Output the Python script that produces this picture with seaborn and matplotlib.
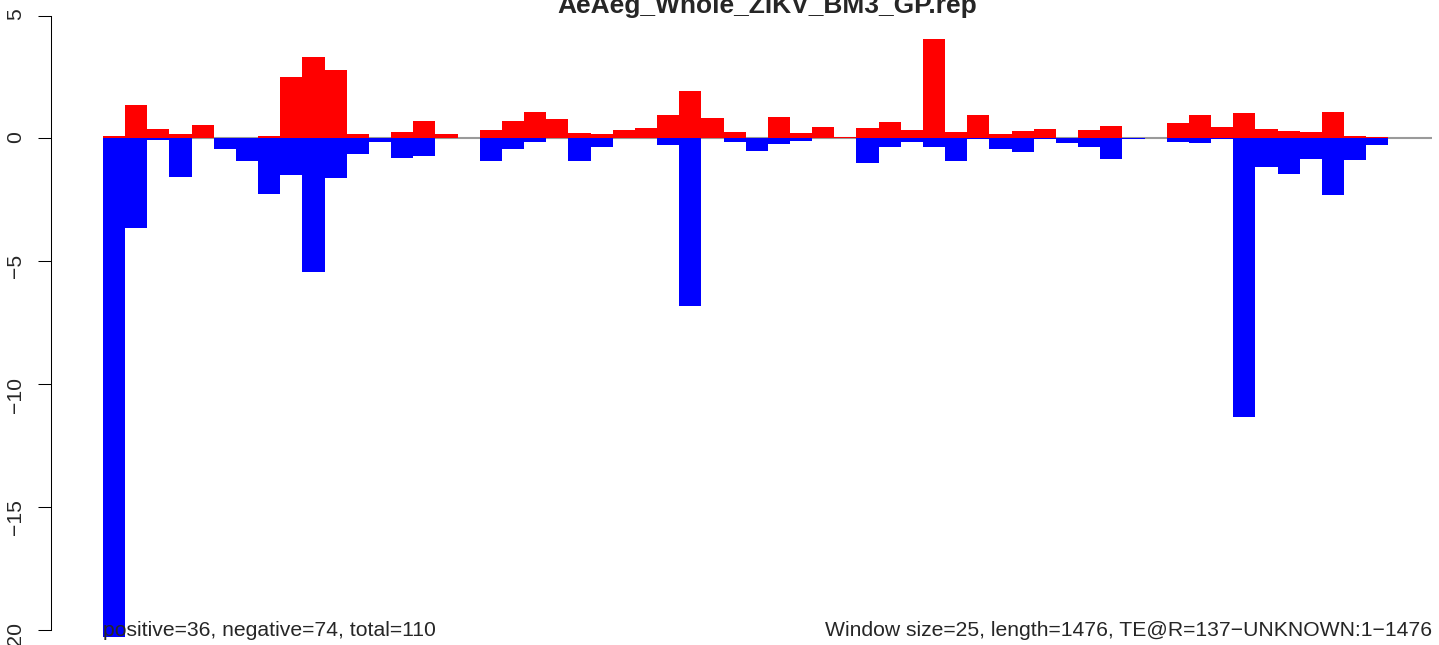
import numpy as np
import pandas as pd
import matplotlib
matplotlib.use("Agg")
import matplotlib.pyplot as plt
import seaborn as sns

# values, one per 25-nt window
title = "AeAeg_Whole_ZIKV_BM3_GP.rep"
positive = [0.10, 1.37, 0.39, 0.18, 0.55, 0, 0, 0.10, 2.50, 3.32, 2.79, 0.18, 0, 0.26, 0.71,
            0.18, 0, 0.35, 0.71, 1.08, 0.79, 0.22, 0.18, 0.35, 0.43, 0.96, 1.93, 0.83, 0.26, 0,
            0.88, 0.22, 0.47, 0.06, 0.43, 0.67, 0.35, 4.05, 0.26, 0.96, 0.18, 0.30, 0.39, 0,
            0.35, 0.51, 0, 0, 0.63, 0.96, 0.47, 1.04, 0.39, 0.30, 0.26, 1.08, 0.10, 0.06]
negative = [-20.3, -3.63, -0.06, -1.56, 0, -0.42, -0.91, -2.25, -1.48, -5.46, -1.60, -0.62,
            -0.13, -0.78, -0.70, 0, 0, -0.94, -0.42, -0.13, 0, -0.91, -0.33, 0, 0, -0.25, -6.82,
            0, -0.13, -0.50, -0.21, -0.09, 0, 0, -1.02, -0.33, -0.13, -0.33, -0.94, -0.04, -0.42,
            -0.54, -0.04, -0.17, -0.37, -0.82, -0.04, 0, -0.13, -0.17, -0.04, -11.34, -1.15,
            -1.43, -0.82, -2.29, -0.86, -0.25]
y_ticks = [5, 0, -5, -10, -15, -20]
left_note = "positive=36, negative=74, total=110"
right_note = "Window size=25, length=1476, TE@R=137\u2212UNKNOWN:1\u22121476"

sns.set_style("white")
plt.rcParams["font.family"] = ["Liberation Sans", "DejaVu Sans"]

df = pd.DataFrame({"window": np.arange(len(positive)),
                   "positive": positive,
                   "negative": negative})

W, H = 1439, 645
fig = plt.figure(figsize=(W / 100, H / 100), dpi=100)
ax = fig.add_axes([51 / W, 1 - 638.2 / H, (1432 - 51) / W, (638.2 - 15.6) / H])

x_left, x_right = -2.847, 59.47

# zero line sits under the bars
ax.hlines(0, -0.5, x_right, color="#9a9a9a", lw=1.5, zorder=0)

sns.barplot(data=df, x="window", y="positive", color="#ff0000", saturation=1,
            width=1, linewidth=0, errorbar=None, ax=ax, zorder=2)
sns.barplot(data=df, x="window", y="negative", color="#0000ff", saturation=1,
            width=1, linewidth=0, errorbar=None, ax=ax, zorder=3)

ax.set_xlim(x_left, x_right)
ax.set_ylim(-20.35, 5)
ax.set_xticks([])
ax.set_xlabel("")
ax.set_ylabel("")
sns.despine(ax=ax, bottom=True)
ax.spines["left"].set_bounds(-20, 5)
ax.spines["left"].set_linewidth(0.75)
ax.spines["left"].set_color("black")
ax.set_yticks(y_ticks)
ax.set_yticklabels([str(t).replace("-", "\u2212") for t in y_ticks])
ax.tick_params(axis="y", direction="out", length=9.4, width=0.75, pad=9.5,
               labelsize=15.2, labelrotation=90, color="black", left=True)

fig.text(767 / W, 1 - 13 / H, title, ha="center", va="baseline",
         fontsize=19, fontweight="bold")
ax.text(-0.5, -20.25, left_note, ha="left", va="baseline", fontsize=15.2)
ax.text(x_right, -20.25, right_note, ha="right", va="baseline", fontsize=15.2)

fig.savefig("out.png", dpi=100)
